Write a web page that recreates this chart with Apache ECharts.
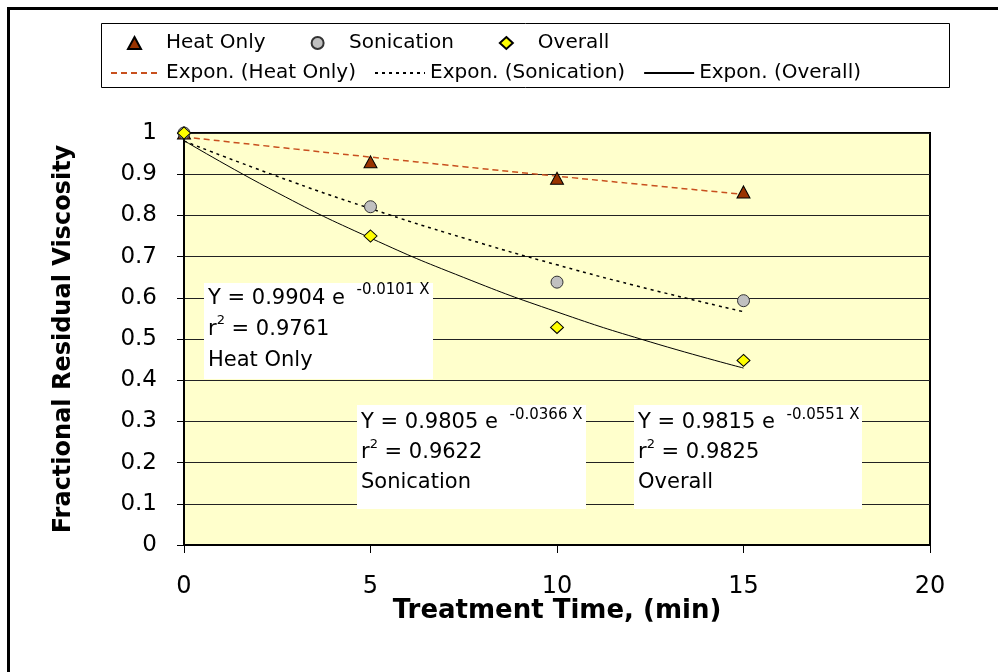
<!DOCTYPE html>
<html>
<head>
<meta charset="utf-8">
<script src="https://cdn.jsdelivr.net/npm/echarts@6/dist/echarts.min.js"></script>
<style>
html,body{margin:0;padding:0;background:#fff;}
#chart{width:998px;height:672px;}
</style>
</head>
<body>
<div id="chart"></div>
<script>
// ---- data ----
var timePoints = [0, 5, 10, 15];
var heatOnly   = [1.00, 0.93, 0.89, 0.857];
var sonication = [1.00, 0.821, 0.638, 0.593];
var overall    = [1.00, 0.75, 0.528, 0.448];

var trendX          = [0, 2.5, 5, 7.5, 10, 12.5, 15];
var trendHeat       = [0.9904, 0.9657, 0.9416, 0.9181, 0.8953, 0.8729, 0.8512];
var trendSonication = [0.9805, 0.8948, 0.8165, 0.7451, 0.6800, 0.6205, 0.5663];
var trendOverall    = [0.9815, 0.8552, 0.7451, 0.6493, 0.5657, 0.4929, 0.4295];

var seriesNames = ['Heat Only', 'Sonication', 'Overall'];
var trendNames  = ['Expon. (Heat Only)', 'Expon. (Sonication)', 'Expon. (Overall)'];

var eqCoef  = ['0.9904', '0.9805', '0.9815'];
var eqExp   = ['-0.0101 X', '-0.0366 X', '-0.0551 X'];
var eqR2    = ['0.9761', '0.9622', '0.9825'];
var eqLabel = ['Heat Only', 'Sonication', 'Overall'];

var xTitle = 'Treatment Time, (min)';
var yTitle = 'Fractional Residual Viscosity';

function pairs(xs, ys){ return xs.map(function(x,i){ return [x, ys[i]]; }); }

var FONT = 'DejaVu Sans';

function eqBox(i, x, y, w, h, lh, dy){
  return {
    type: 'group',
    children: [
      { type: 'rect', shape: {x: x, y: y, width: w, height: h}, style: {fill: '#ffffff'}, z: 10 },
      { type: 'text', x: x + 4, y: y + dy, z: 11,
        style: {
          text: '{a|Y = ' + eqCoef[i] + ' e }{s|' + eqExp[i] + '}\n{a|r}{t|2}{a| = ' + eqR2[i] + '}\n{a|' + eqLabel[i] + '}',
          fill: '#000',
          fontFamily: FONT,
          fontSize: 21,
          lineHeight: lh,
          rich: {
            a: {fontFamily: FONT, fontSize: 21, lineHeight: lh, fill: '#000', verticalAlign: 'middle'},
            s: {fontFamily: FONT, fontSize: 15, lineHeight: 16, fill: '#000', verticalAlign: 'top', padding: [0, 0, 0, 5]},
            t: {fontFamily: FONT, fontSize: 13, lineHeight: 18, fill: '#000', verticalAlign: 'top'}
          }
        }
      }
    ]
  };
}

var chart = echarts.init(document.getElementById('chart'), null, {renderer: 'canvas'});

var option = {
  backgroundColor: '#ffffff',
  animation: false,
  grid: {left: 184, right: 68, top: 133, bottom: 127, show: true,
         backgroundColor: '#FFFFCC', borderColor: '#000', borderWidth: 2},
  xAxis: {
    type: 'value', min: 0, max: 20, interval: 5,
    name: xTitle, nameLocation: 'middle', nameGap: 53, nameMoveOverlap: false,
    nameTextStyle: {fontFamily: FONT, fontWeight: 'bold', fontSize: 26, color: '#000'},
    axisLine: {show: true, lineStyle: {color: '#000', width: 2}},
    axisTick: {show: true, inside: false, length: 8, lineStyle: {color: '#000', width: 1}},
    axisLabel: {margin: 30, fontFamily: FONT, fontSize: 24, color: '#000'},
    splitLine: {show: false}
  },
  yAxis: {
    type: 'value', min: 0, max: 1, interval: 0.1,
    name: yTitle, nameLocation: 'middle', nameGap: 108, nameRotate: 90,
    nameTextStyle: {fontFamily: FONT, fontWeight: 'bold', fontSize: 24, color: '#000'},
    axisLine: {show: true, lineStyle: {color: '#000', width: 2}},
    axisTick: {show: true, inside: false, length: 7, lineStyle: {color: '#000', width: 1}},
    axisLabel: {margin: 27, fontFamily: FONT, fontSize: 23, color: '#000'},
    splitLine: {show: true, lineStyle: {color: '#222', width: 1}}
  },
  legend: [
    {
      data: seriesNames, orient: 'horizontal', left: 127, top: 33, padding: 0,
      itemWidth: 13, itemHeight: 12, itemGap: 45,
      textStyle: {fontFamily: FONT, fontSize: 20, color: '#000', width: 200, padding: [0, 0, 0, 20]}
    },
    {
      data: trendNames, orient: 'horizontal', left: 110, top: 63, padding: 0,
      itemWidth: 50, itemHeight: 12, itemGap: 18,
      itemStyle: {color: 'transparent', borderColor: 'transparent', borderWidth: 0},
      textStyle: {fontFamily: FONT, fontSize: 20, color: '#000', width: 210}
    }
  ],
  series: [
    {name: trendNames[0], type: 'line', data: pairs(trendX, trendHeat), smooth: true,
     symbol: 'none', z: 3, lineStyle: {color: '#C8501E', width: 1.5, type: [6, 4]}, itemStyle: {color: '#C8501E'}},
    {name: trendNames[1], type: 'line', data: pairs(trendX, trendSonication), smooth: true,
     symbol: 'none', z: 3, lineStyle: {color: '#000', width: 1.5, type: [3, 4]}, itemStyle: {color: '#000'}},
    {name: trendNames[2], type: 'line', data: pairs(trendX, trendOverall), smooth: true,
     symbol: 'none', z: 3, lineStyle: {color: '#000', width: 1, type: 'solid'}, itemStyle: {color: '#000'}},
    {name: seriesNames[0], type: 'scatter', data: pairs(timePoints, heatOnly), symbol: 'triangle',
     symbolSize: [13, 12], z: 5, itemStyle: {color: '#993300', borderColor: '#000', borderWidth: 1, opacity: 1}},
    {name: seriesNames[1], type: 'scatter', data: pairs(timePoints, sonication), symbol: 'circle',
     symbolSize: 12, z: 5, itemStyle: {color: '#C0C0C0', borderColor: '#333', borderWidth: 1, opacity: 1}},
    {name: seriesNames[2], type: 'scatter', data: pairs(timePoints, overall), symbol: 'diamond',
     symbolSize: [13, 12], z: 6, itemStyle: {color: '#FFFF00', borderColor: '#000', borderWidth: 1, opacity: 1}}
  ],
  graphic: [
    {type: 'rect', shape: {x: 8.5, y: 8.5, width: 1000, height: 700},
     style: {fill: 'transparent', stroke: '#000', lineWidth: 3}, z: 0},
    {type: 'rect', shape: {x: 101.5, y: 23.5, width: 848, height: 64},
     style: {fill: 'transparent', stroke: '#000', lineWidth: 1}, z: 0},
    eqBox(0, 204, 283, 229, 96, 31, 0),
    eqBox(1, 357, 405, 229, 104, 30, 3),
    eqBox(2, 634, 405, 228, 104, 30, 3)
  ]
};
chart.setOption(option);
</script>
</body>
</html>
